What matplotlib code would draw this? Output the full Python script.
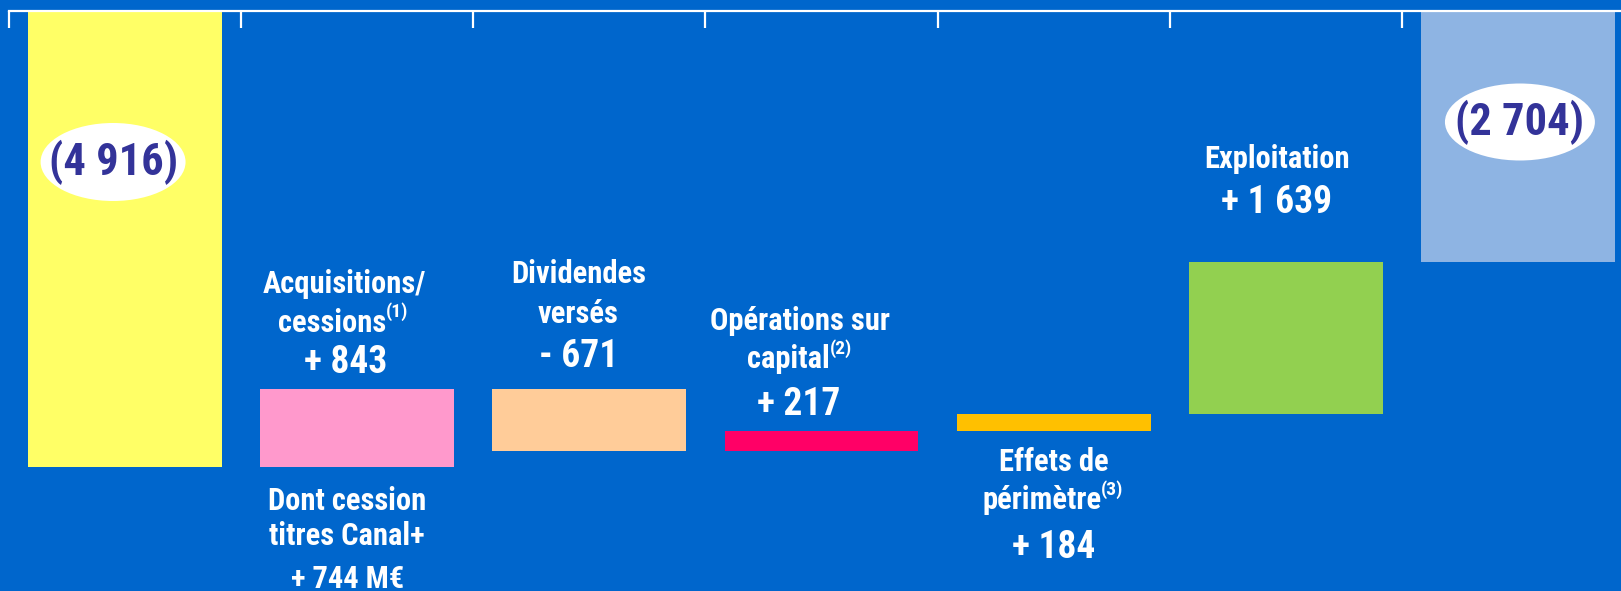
import numpy as np
import matplotlib.pyplot as plt
from matplotlib.patches import Ellipse

# net debt bridge, M EUR
start_value = -4916
steps = ["Acquisitions/\ncessions", "Dividendes\nversés", "Opérations sur\ncapital",
         "Effets de\npérimètre", "Exploitation"]
step_notes = ["(1)", "", "(2)", "(3)", ""]
step_values = [843, -671, 217, 184, 1639]
end_value = -2704
acq_detail = ["Dont cession", "titres Canal+", "+ 744 M€"]

BG = '#0066CC'
bar_colors = ['#FFFF66', '#FF99CC', '#FFCC99', '#FF0066', '#FFC000', '#92D050', '#8EB4E3']
FONT = ['Roboto Condensed', 'DejaVu Sans']
px_per_unit = 0.0928

def fmt(v):
    return "{:,}".format(abs(v)).replace(",", " ")

def sign(v):
    return ("+ " if v > 0 else "- ") + fmt(v)

fig = plt.figure(figsize=(16.21, 5.91), dpi=100, facecolor=BG)
ax = fig.add_axes([9/1621, 0, 1625/1621, 580/591])
ax.set_facecolor(BG)
ax.set_xlim(-0.5, 6.5)
ax.set_ylim(-580/px_per_unit, 0)

# waterfall geometry
levels = np.cumsum([start_value] + step_values)
tops = [max(a, b) for a, b in zip(levels[:-1], levels[1:])]
lows = [min(a, b) for a, b in zip(levels[:-1], levels[1:])]
n = len(steps) + 2
xs = np.arange(n)
bottoms = [start_value] + lows + [end_value]
heights = [-start_value] + [abs(v) for v in step_values] + [-end_value]
ax.bar(xs, heights, bottom=bottoms, width=0.835, color=bar_colors, linewidth=0, zorder=2)

for s in ['left', 'right', 'bottom']:
    ax.spines[s].set_visible(False)
ax.spines['top'].set_color('white')
ax.spines['top'].set_linewidth(1.6)
ax.xaxis.tick_top()
ax.set_xticks(np.arange(-0.5, n, 1))
ax.tick_params(axis='x', direction='in', length=12.5, width=1.6, color='white',
               labeltop=False, labelbottom=False)
ax.set_yticks([])

def label(x, y, dy, text, size=22, dx=0, sup=""):
    t = ax.annotate(text, xy=(x, y), xytext=(dx, dy), textcoords='offset pixels',
                    ha='center', va='center', color='white', fontsize=size,
                    fontweight='bold', family=FONT, zorder=5)
    if sup:
        ax.annotate(sup, xy=(1.0, 0.55), xycoords=t, ha='left', va='bottom',
                    color='white', fontsize=14, fontweight='bold', family=FONT, zorder=5)
    return t

# Acquisitions / cessions
x = 1
label(x, tops[0], 105, "Acquisitions/", dx=-13)
label(x, tops[0], 66, "cessions", dx=-25, sup=step_notes[0])
label(x, tops[0], 26, sign(step_values[0]), size=27, dx=-12)
for line, dy in zip(acq_detail, [-34, -69, -112]):
    label(x, lows[0], dy, line, dx=-10)

# Dividendes versés
x = 2
label(x, tops[1], 115, "Dividendes", dx=-11)
label(x, tops[1], 75, "versés", dx=-11)
label(x, tops[1], 32, sign(step_values[1]), size=27, dx=-11)

# Opérations sur capital
x = 3
label(x, tops[2], 110, "Opérations sur", dx=-21)
label(x, tops[2], 72, "capital", dx=-33, sup=step_notes[2])
label(x, tops[2], 27, sign(step_values[2]), size=27, dx=-23)

# Effets de périmètre
x = 4
label(x, lows[3], -31, "Effets de", dx=0)
label(x, lows[3], -69, "périmètre", dx=-12, sup=step_notes[3])
label(x, lows[3], -116, sign(step_values[3]), size=27, dx=0)

# Exploitation
x = 5
label(x, tops[4], 103, "Exploitation", dx=-9)
label(x, tops[4], 59, sign(step_values[4]), size=27, dx=-9)

# opening and closing balances in white ovals
x_unit = 232.2
for xi, v, (cx, cy), (w, h) in [(0, start_value, (-12, -151), (145, 78)),
                                 (6, end_value, (2, -111), (150, 77))]:
    ex = xi + cx / x_unit
    ey = cy / px_per_unit
    ax.add_patch(Ellipse((ex, ey), w / x_unit, h / px_per_unit, facecolor='white',
                         edgecolor='none', zorder=3))
    ax.text(ex, ey, "(" + fmt(v) + ")", ha='center', va='center', color='#333399',
            fontsize=32, fontweight='bold', family=FONT, zorder=4)

fig.savefig("out.png", dpi=100, facecolor=BG)
